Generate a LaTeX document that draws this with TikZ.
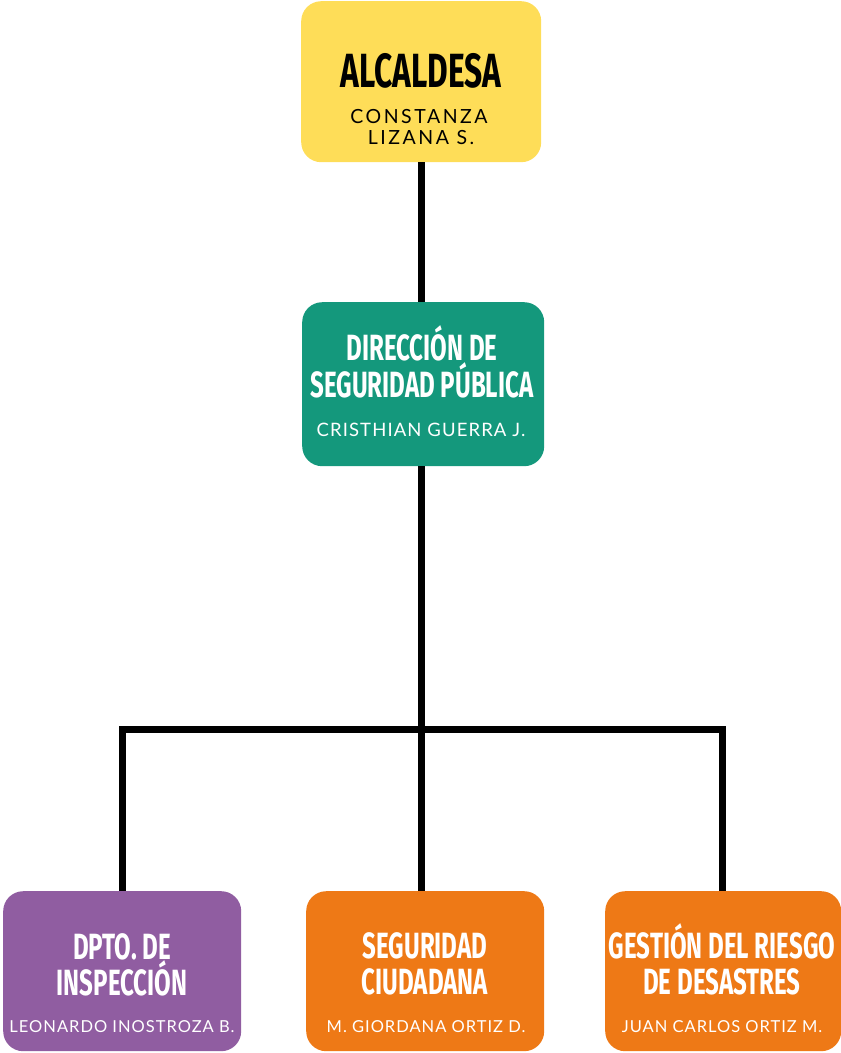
\documentclass[tikz,border=0pt]{standalone}
\usepackage{fontspec}
\newfontfamily\titlefont[FakeStretch=0.66]{Fira Sans}
\newfontfamily\namefont[LetterSpace=6]{Lato}
\newfontfamily\topnamefont[LetterSpace=13]{Lato}
\definecolor{cyellow}{RGB}{254,221,88}
\definecolor{cteal}{RGB}{20,152,124}
\definecolor{cpurple}{RGB}{144,93,161}
\definecolor{corange}{RGB}{238,121,22}
\tikzset{
  box/.style={rounded corners=20pt, inner sep=0pt, draw=none, anchor=north west},
  conn/.style={line width=7pt, black},
  ttl/.style={anchor=base, inner sep=0pt, font=\titlefont\bfseries\fontsize{36.5}{37}\selectfont, text=white},
  nm/.style={anchor=base, inner sep=0pt, font=\namefont\fontsize{16.5}{17}\selectfont, text=white},
  topnm/.style={anchor=base, inner sep=0pt, font=\topnamefont\fontsize{19.5}{20}\selectfont, text=black},
}
\begin{document}
\begin{tikzpicture}[x=1pt,y=-1pt]
\useasboundingbox (0,0) rectangle (841,1053);
% boxes
\node[box, fill=cyellow, minimum width=240pt, minimum height=161pt] (top) at (301,1) {};
\node[box, fill=cteal, minimum width=242pt, minimum height=164pt] (mid) at (302,302) {};
\node[box, fill=cpurple, minimum width=238pt, minimum height=160pt] (b1) at (3,891) {};
\node[box, fill=corange, minimum width=238pt, minimum height=160pt] (b2) at (306,891) {};
\node[box, fill=corange, minimum width=236pt, minimum height=160pt] (b3) at (605,891) {};
% connectors
\coordinate (j) at (421,729);
\coordinate (jl) at (122,729);
\coordinate (jr) at (722,729);
\draw[conn] (421,162) coordinate (ts) -- (421,302) coordinate (mn);
\draw[conn] (421,466) coordinate (ms) -- (j);
\draw[conn, line cap=rect] (jl) -- (jr);
\draw[conn] (jl) -- (jl |- b1.north);
\draw[conn] (j) -- (j |- b2.north);
\draw[conn] (jr) -- (jr |- b3.north);
% texts
\node[ttl, text=black, font=\titlefont\bfseries\fontsize{48}{48}\selectfont] (t1) at (421,87) {ALCALDESA};
\node[topnm] (t1a) at (419,123) {CONSTANZA};
\node[topnm] (t1b) at (421,144) {LIZANA S.};
\node[ttl] (t2) at (422,360) {DIRECCIÓN DE};
\node[ttl] (t2b) at (422,397) {SEGURIDAD PÚBLICA};
\node[nm, font=\namefont\fontsize{18.5}{19}\selectfont] (t2c) at (421,436) {CRISTHIAN GUERRA J.};
\node[ttl] (t3) at (122,959) {DPTO. DE};
\node[ttl] (t3b) at (122,995) {INSPECCIÓN};
\node[nm] (t3c) at (122,1032) {LEONARDO INOSTROZA B.};
\node[ttl] (t4) at (425,958) {SEGURIDAD};
\node[ttl] (t4b) at (425,994) {CIUDADANA};
\node[nm] (t4c) at (426,1032) {M. GIORDANA ORTIZ D.};
\node[ttl] (t5) at (722,958) {GESTIÓN DEL RIESGO};
\node[ttl] (t5b) at (722,994) {DE DESASTRES};
\node[nm] (t5c) at (722,1032) {JUAN CARLOS ORTIZ M.};
\end{tikzpicture}
\end{document}
